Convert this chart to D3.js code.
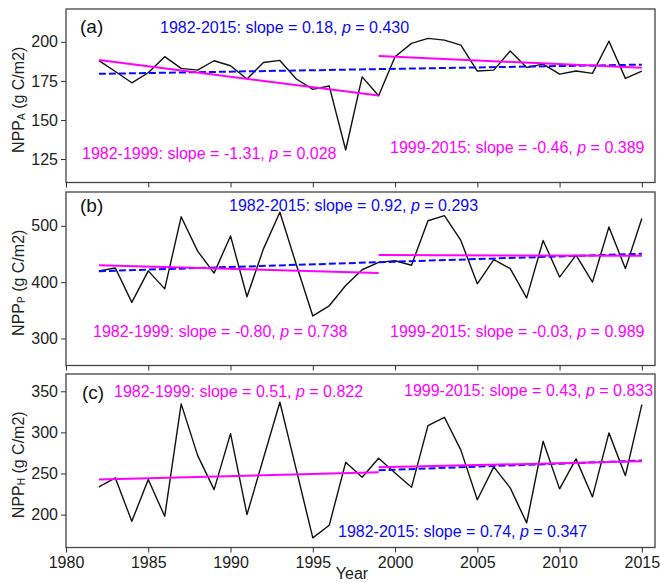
<!DOCTYPE html>
<html>
<head>
<meta charset="utf-8">
<script src="https://cdn.jsdelivr.net/npm/d3@7"></script>
<style>
  body { margin: 0; background: #fff; }
  svg { display: block; }
  text { font-family: "Liberation Sans", Arial, sans-serif; }
</style>
</head>
<body>
<div id="chart"></div>
<script>
const years = [1982, 1983, 1984, 1985, 1986, 1987, 1988, 1989, 1990, 1991, 1992,
  1993, 1994, 1995, 1996, 1997, 1998, 1999, 2000, 2001, 2002, 2003, 2004, 2005,
  2006, 2007, 2008, 2009, 2010, 2011, 2012, 2013, 2014, 2015];

// NPP series (g C/m2)
const nppA = [188, 181, 173.8, 180.2, 190.5, 183, 181.9, 187.9, 184.7, 176.2, 186.8,
  188.1, 176.2, 169.6, 171.7, 130.8, 177.6, 165.5, 190.4, 199, 202.2, 201.1, 197.9,
  181.3, 181.9, 194.2, 183.6, 185.7, 179.3, 181.3, 179.8, 200.4, 176.6, 181.3];
const nppP = [420, 425, 364, 420, 388, 516, 455, 416, 482, 374, 459, 524, 431, 340,
  358, 394, 422, 435, 438, 430, 509, 518, 474, 397, 440, 424, 372, 474, 409, 448,
  400, 498, 424, 513];
const nppH = [233.7, 244.6, 191.8, 242.6, 197.9, 334.7, 272, 230.4, 298.5, 200, 268.5,
  336.6, 254.4, 171.7, 187, 263.6, 245.4, 268.5, 250.7, 233.2, 308.3, 318.4, 278.4,
  218.1, 258, 232.5, 189.9, 289.2, 231.3, 267.8, 221.5, 299.4, 247.4, 333.8];

// trend line end points [start, end]
const trendYearsAll = [1982, 2015];
const trendYearsEarly = [1982, 1999];
const trendYearsLate = [1999, 2015];
const trendYearsAllH = [1999, 2015]; // only the visible part in (c)
const trendAllA = [179.5, 185.4], trendEarlyA = [188.3, 165.6], trendLateA = [190.9, 183.4];
const trendAllP = [419.4, 450.4], trendEarlyP = [430.1, 416.4], trendLateP = [448, 446.9];
const trendAllH = [253.9, 265.7], trendEarlyH = [242.6, 251.5], trendLateH = [257.5, 264.8];

const xTicks = [1980, 1985, 1990, 1995, 2000, 2005, 2010, 2015];
const yTicksA = [125, 150, 175, 200];
const yTicksP = [300, 400, 500];
const yTicksH = [200, 250, 300, 350];

const labelsA = ["1982-2015: slope = 0.18, ", "0.430", "1982-1999: slope = -1.31, ", "0.028", "1999-2015: slope = -0.46, ", "0.389"];
const labelsP = ["1982-2015: slope = 0.92, ", "0.293", "1982-1999: slope = -0.80, ", "0.738", "1999-2015: slope = -0.03, ", "0.989"];
const labelsH = ["1982-2015: slope = 0.74, ", "0.347", "1982-1999: slope = 0.51, ", "0.822", "1999-2015: slope = 0.43, ", "0.833"];

const width = 661, height = 583;
const left = 66, right = 655, panelH = 173.5;
const BLUE = "#0a0aff", MAGENTA = "#ff00ff";

const panels = [
  { tag: "(a)", sub: "A", top: 9, values: nppA, domain: [110, 221], ticks: yTicksA,
    all: [trendYearsAll, trendAllA], early: [trendYearsEarly, trendEarlyA], late: [trendYearsLate, trendLateA],
    labels: labelsA, pos: { tag: [80, 24], all: [160, 24], early: [82, 150], late: [390, 144] } },
  { tag: "(b)", sub: "P", top: 192, values: nppP, domain: [252, 560], ticks: yTicksP,
    all: [trendYearsAll, trendAllP], early: [trendYearsEarly, trendEarlyP], late: [trendYearsLate, trendLateP],
    labels: labelsP, pos: { tag: [80, 20], all: [229, 19], early: [93, 145], late: [390, 145] } },
  { tag: "(c)", sub: "H", top: 374, values: nppH, domain: [160, 371], ticks: yTicksH,
    all: [trendYearsAllH, trendAllH], early: [trendYearsEarly, trendEarlyH], late: [trendYearsLate, trendLateH],
    labels: labelsH, pos: { tag: [82, 25], all: [338, 163], early: [114, 23], late: [404, 22] } }
];

const svg = d3.select("#chart").append("svg")
  .attr("width", width)
  .attr("height", height);

const x = d3.scaleLinear().domain([1980, 2015.8]).range([left, right]);

function addLabel(g, px, py, text, pval, color) {
  const t = g.append("text")
    .attr("x", px).attr("y", py)
    .attr("fill", color)
    .style("font-size", "16px");
  t.append("tspan").text(text);
  t.append("tspan").style("font-style", "italic").text("p");
  t.append("tspan").text(" = " + pval);
}

panels.forEach((p, i) => {
  const y = d3.scaleLinear().domain(p.domain).range([p.top + panelH, p.top]);
  const g = svg.append("g");

  // --- black series ---
  const line = d3.line().x((d, j) => x(years[j])).y(d => y(d));
  g.append("path")
    .datum(p.values)
    .attr("d", line)
    .attr("fill", "none")
    .attr("stroke", "#111")
    .attr("stroke-width", 1.4)
    .attr("stroke-linejoin", "round");

  // --- trend lines ---
  const seg = d3.line().x(d => x(d[0])).y(d => y(d[1]));
  const pairs = t => t[0].map((yr, k) => [yr, t[1][k]]);
  g.append("path")
    .attr("d", seg(pairs(p.all)))
    .attr("fill", "none")
    .attr("stroke", BLUE)
    .attr("stroke-width", 2)
    .attr("stroke-dasharray", "7,3");
  [p.early, p.late].forEach(t => {
    g.append("path")
      .attr("d", seg(pairs(t)))
      .attr("fill", "none")
      .attr("stroke", MAGENTA)
      .attr("stroke-width", 2);
  });

  // --- frame ---
  g.append("rect")
    .attr("x", left).attr("y", p.top)
    .attr("width", right - left).attr("height", panelH)
    .attr("fill", "none")
    .attr("stroke", "#444")
    .attr("stroke-width", 1.3);

  // --- axes ---
  const yAxis = g.append("g")
    .attr("transform", `translate(${left},0)`)
    .call(d3.axisLeft(y).tickValues(p.ticks).tickSize(5).tickPadding(3));
  yAxis.select(".domain").remove();
  yAxis.selectAll(".tick line").attr("stroke", "#333");
  yAxis.selectAll("text")
    .attr("fill", "#222")
    .style("font-family", "'Liberation Sans', Arial, sans-serif")
    .style("font-size", "16px");

  const xAxis = g.append("g")
    .attr("transform", `translate(0,${p.top + panelH})`)
    .call(d3.axisBottom(x).tickValues(xTicks).tickSize(5).tickPadding(4).tickFormat(d3.format("d")));
  xAxis.select(".domain").remove();
  xAxis.selectAll(".tick line").attr("stroke", "#333");
  xAxis.selectAll("text")
    .attr("fill", "#222")
    .style("font-family", "'Liberation Sans', Arial, sans-serif")
    .style("font-size", "16px");
  if (i < panels.length - 1) xAxis.selectAll("text").remove();

  // --- y title ---
  const cy = p.top + panelH / 2 + 4;
  const yt = g.append("text")
    .attr("transform", `translate(24,${cy}) rotate(-90)`)
    .attr("text-anchor", "middle")
    .attr("fill", "#222")
    .style("font-size", "16px");
  yt.append("tspan").text("NPP");
  yt.append("tspan").style("font-size", "10px").attr("dy", 1).text(p.sub);
  yt.append("tspan").attr("dy", -1).text(" (g C/m2)");

  // --- panel tag and annotations ---
  g.append("text")
    .attr("x", p.pos.tag[0]).attr("y", p.top + p.pos.tag[1])
    .attr("fill", "#111")
    .style("font-size", "19px")
    .text(p.tag);
  addLabel(g, p.pos.all[0], p.top + p.pos.all[1], p.labels[0], p.labels[1], BLUE);
  addLabel(g, p.pos.early[0], p.top + p.pos.early[1], p.labels[2], p.labels[3], MAGENTA);
  addLabel(g, p.pos.late[0], p.top + p.pos.late[1], p.labels[4], p.labels[5], MAGENTA);
});

// --- x title ---
svg.append("text")
  .attr("x", 352)
  .attr("y", 579)
  .attr("text-anchor", "middle")
  .attr("fill", "#222")
  .style("font-size", "16px")
  .text("Year");
</script>
</body>
</html>
